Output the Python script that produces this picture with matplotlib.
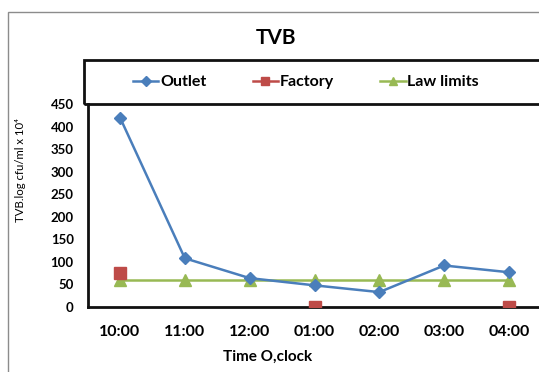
import numpy as np
import matplotlib
matplotlib.use("Agg")
import matplotlib.pyplot as plt
from matplotlib.lines import Line2D
from matplotlib.patches import Rectangle

times = ["10:00", "11:00", "12:00", "01:00", "02:00", "03:00", "04:00"]
outlet = [420, 108, 64, 48, 33, 92, 77]
factory = [75, np.nan, np.nan, 0, np.nan, np.nan, 0]
law_limits = [60, 60, 60, 60, 60, 60, 60]
y_ticks = [0, 50, 100, 150, 200, 250, 300, 350, 400, 450]

BLUE = "#4a7ebb"
RED = "#be4b48"
GREEN = "#98b954"
FONT = ["Lato", "DejaVu Sans"]

plt.rcParams["font.family"] = FONT

W, H = 539, 372
fig = plt.figure(figsize=(W / 100, H / 100), dpi=100)

def fx(px):
    return px / W

def fy(py):
    return 1 - py / H

# outer chart border
fig.add_artist(Rectangle((fx(8), fy(400)), fx(580), fy(12) - fy(400),
                         transform=fig.transFigure, fill=False,
                         edgecolor="#8c8c8c", linewidth=1.0))

ax = fig.add_axes([fx(87.6), fy(307), fx(541.4) - fx(87.6), fy(104) - fy(307)])
x = np.arange(len(times))

ax.plot(x, outlet, color=BLUE, lw=1.8, marker="D", ms=6, label="Outlet", zorder=4)
ax.plot(x, factory, color=RED, lw=1.8, marker="s", ms=8, ls="-", label="Factory", zorder=5)
ax.plot(x, law_limits, color=GREEN, lw=1.8, marker="^", ms=9, label="Law limits", zorder=3)

ax.set_xlim(-0.5, 6.5)
ax.set_ylim(0, 450)
ax.set_xticks(x)
ax.set_xticklabels(times, fontsize=11.5, fontweight="bold")
ax.set_yticks(y_ticks)
ax.set_yticklabels([str(v) for v in y_ticks], fontsize=9.5, fontweight="bold")
ax.tick_params(axis="x", length=0, pad=13)
ax.tick_params(axis="y", length=0, pad=10)
for side in ("left", "bottom"):
    ax.spines[side].set_linewidth(2.0)
    ax.spines[side].set_color("#111111")
ax.spines["right"].set_visible(False)
ax.spines["top"].set_visible(False)

fig.text(fx(268), fy(357), "Time O,clock", ha="center", va="center",
         fontsize=11, fontweight="bold")
fig.text(fx(21), fy(170), "TVB.log cfu/ml x 10\u2074", ha="center", va="center",
         rotation=90, fontsize=8.2, family=FONT)
fig.text(fx(276), fy(38), "TVB", ha="center", va="center",
         fontsize=15, fontweight="bold")

# legend panel
fig.add_artist(Rectangle((fx(83.5), fy(104)), fx(470), fy(60) - fy(104),
                         transform=fig.transFigure, fill=False,
                         edgecolor="#111111", linewidth=2.0, zorder=10))
handles = [
    Line2D([], [], color=BLUE, lw=1.8, marker="D", ms=5),
    Line2D([], [], color=RED, lw=1.8, marker="s", ms=6),
    Line2D([], [], color=GREEN, lw=1.8, marker="^", ms=6),
]
fig.legend(handles, ["Outlet", "Factory", "Law limits"], ncol=3,
           loc="center", bbox_to_anchor=(fx(306), fy(82)), frameon=False,
           prop={"size": 11.5, "weight": "bold"}, handlelength=1.6,
           handletextpad=0.1, columnspacing=2.9)

fig.savefig("out.png", dpi=100)
